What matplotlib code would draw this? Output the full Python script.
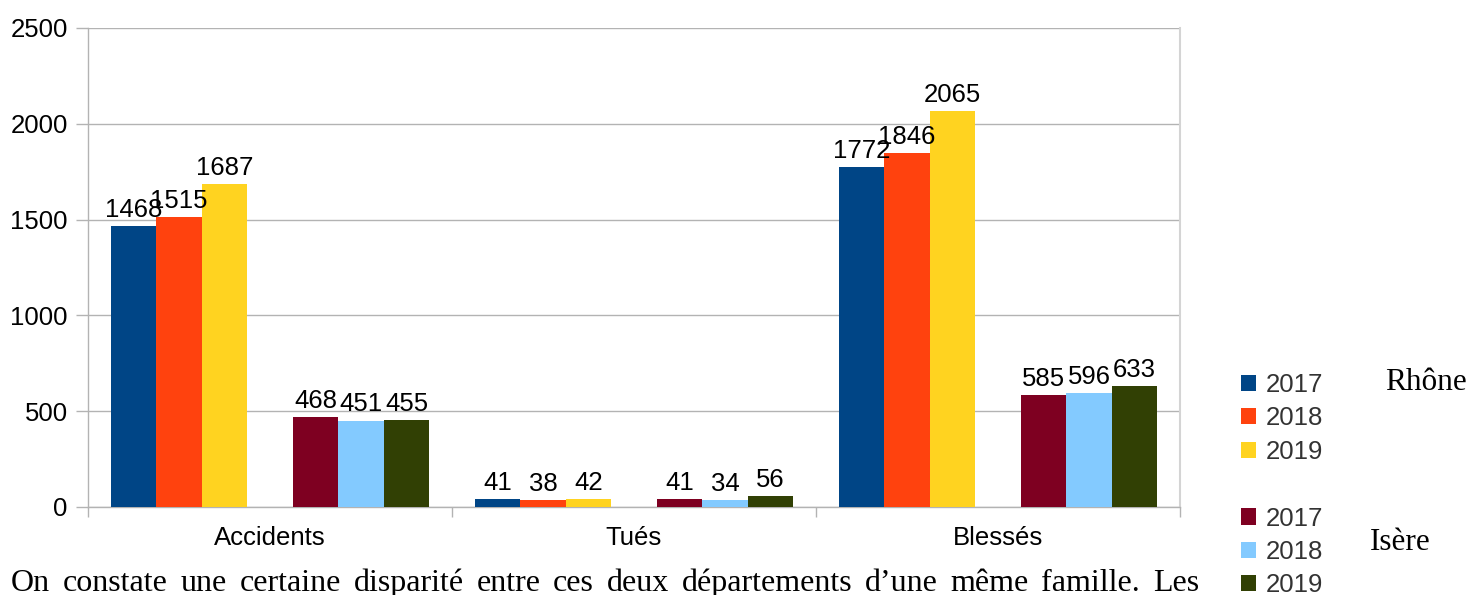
import matplotlib
matplotlib.use("Agg")
import matplotlib.pyplot as plt
from matplotlib.patches import Patch
import numpy as np

categories = ["Accidents", "Tués", "Blessés"]
years = ["2017", "2018", "2019"]
rhone = {"2017": [1468, 41, 1772], "2018": [1515, 38, 1846], "2019": [1687, 42, 2065]}
isere = {"2017": [468, 41, 585], "2018": [451, 34, 596], "2019": [455, 56, 633]}
rhone_colors = ["#004586", "#ff420e", "#ffd320"]
isere_colors = ["#7e0021", "#83caff", "#314004"]
yticks = [0, 500, 1000, 1500, 2000, 2500]
body_text = "On constate une certaine disparité entre ces deux départements d’une même famille. Les"

W, H = 1471, 595
fig = plt.figure(figsize=(W / 100, H / 100), dpi=100)
ax = fig.add_axes([88 / W, 1 - 507 / H, (1180 - 88) / W, (507 - 28) / H])

sans = "Liberation Sans"
serif = "Liberation Serif"
fs = 18.5

x = np.arange(len(categories))
bw = 1 / 8
handles = []
for i, y in enumerate(years):
    b = ax.bar(x + (i - 3) * bw, rhone[y], bw, color=rhone_colors[i], align="center", zorder=3)
    ax.bar_label(b, padding=3, fontsize=fs, family=sans, color="black", zorder=4)
    handles.append((b, y))
blank = Patch(facecolor="none", edgecolor="none")
handles.append((blank, ""))
for i, y in enumerate(years):
    b = ax.bar(x + (i + 1) * bw, isere[y], bw, color=isere_colors[i], align="center", zorder=3)
    ax.bar_label(b, padding=3, fontsize=fs, family=sans, color="black", zorder=4)
    handles.append((b, y))

ax.set_xlim(-0.5, 2.5)
ax.set_ylim(0, 2500)
ax.set_yticks(yticks)
ax.set_yticklabels([str(v) for v in yticks], fontsize=fs, family=sans)
ax.set_xticks(x)
ax.set_xticklabels(categories, fontsize=fs, family=sans)
ax.set_xticks([-0.5, 0.5, 1.5, 2.5], minor=True)
ax.tick_params(axis="x", which="major", length=0, pad=14)
ax.tick_params(axis="x", which="minor", length=7.5, color="#b3b3b3", width=1)
ax.tick_params(axis="y", length=8.5, color="#b3b3b3", width=1, pad=6)
ax.yaxis.grid(True, color="#b3b3b3", linewidth=1, zorder=0)
ax.set_axisbelow(True)
for s in ["left", "bottom"]:
    ax.spines[s].set_color("#b3b3b3")
    ax.spines[s].set_linewidth(1)
ax.spines["top"].set_visible(False)
ax.spines["right"].set_color("#d4d4d4")
ax.spines["right"].set_linewidth(1.5)

leg = fig.legend([h for h, _ in handles], [l for _, l in handles],
                 loc="upper left", bbox_to_anchor=(1241 / W, 1 - 373 / H),
                 frameon=False, handlelength=0.6, handleheight=0.6,
                 handletextpad=0.35, labelspacing=0.365, borderpad=0, borderaxespad=0,
                 prop={"family": sans, "size": fs})
for t in leg.get_texts():
    t.set_color("#333333")

fig.text(1385 / W, 1 - 383 / H, "Rhône", family=serif, fontsize=22.5, va="center", ha="left")
fig.text(1370 / W, 1 - 543 / H, "Isère", family=serif, fontsize=22.5, va="center", ha="left")

# justified body line
words = body_text.split(" ")
bfs = 23
renderer = fig.canvas.get_renderer()
txts = []
widths = []
for w in words:
    t = fig.text(0, 1 - 591 / H, w, family=serif, fontsize=bfs, va="baseline", ha="left")
    bb = t.get_window_extent(renderer=renderer)
    txts.append(t)
    widths.append(bb.width)
left, right = 11, 1199
gap = (right - left - sum(widths)) / (len(words) - 1)
pos = left
for t, wd in zip(txts, widths):
    t.set_x(pos / W)
    pos += wd + gap

fig.savefig("out.png", dpi=100)
